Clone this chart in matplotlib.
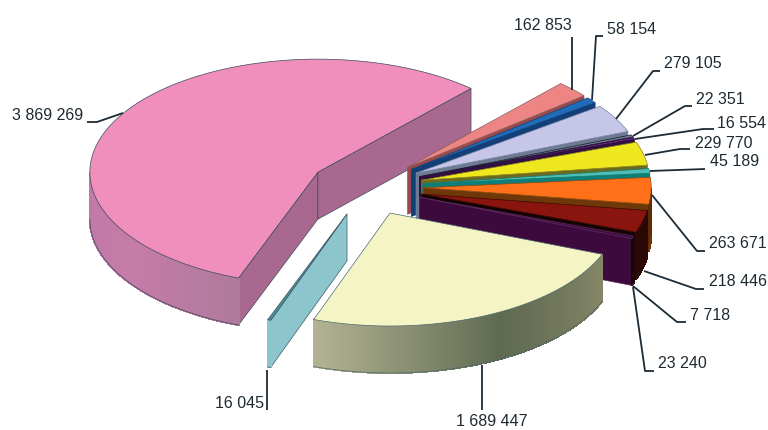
import numpy as np
import matplotlib
matplotlib.use("Agg")
import matplotlib.pyplot as plt
from matplotlib.colors import to_rgb

plt.rcParams['font.family'] = ['Liberation Sans', 'DejaVu Sans']

# clockwise from the top of the pink slice's end
values = [162853, 58154, 279105, 22351, 16554, 229770, 45189,
          263671, 218446, 7718, 23240, 1689447, 16045, 3869269]
labels = ["162 853", "58 154", "279 105", "22 351", "16 554", "229 770", "45 189",
          "263 671", "218 446", "7 718", "23 240", "1 689 447", "16 045", "3 869 269"]

top_colors = ['#EE8585', '#1F6DB8', '#C6C6E8', '#6F7C90', '#7A2C8E', '#F0E81E', '#50BDB5',
              '#FF7018', '#8A140E', '#2A0A08', '#3E0B40', '#F4F4C4', '#4E8C96', '#F08FBB']
wall_colors = ['#9A4A4A', '#123F78', '#6E7A92', '#151A2A', '#301040', '#6B6A1F', '#0E7E78',
               '#6E3808', '#120404', '#1A0804', '#3C0A3C', '#6A7058', '#8CC6CC', '#A8688F']
edge_colors = ['#8A5A5A', '#123F78', '#7A86A0', '#151A2A', '#301040', '#8A8420', '#0E7E78',
               '#8A4A10', '#3A0806', '#1A0804', '#5A2A60', '#4A6A70', '#3B5A66', '#3B4A5A']
# rim colour at the left, middle and right end of each slice's rim
rim_colors = [('#9A4A4A',) * 3, ('#123F78',) * 3, ('#6E7A92',) * 3, ('#151A2A',) * 3,
              ('#301040',) * 3, ('#6B6A1F',) * 3, ('#0E7E78',) * 3,
              ('#5E2C06',) * 3, ('#2A0806',) * 3, ('#1A0804',) * 3, ('#1A0508',) * 3,
              ('#B4B494', '#5F6A50', '#868668'), ('#8CC6CC',) * 3,
              ('#C07AA8', '#C47CA8', '#B07A9C')]

# pie geometry in picture pixels
start_angle = 47.8
cx, cy = 366.4, 187.0
rx, ry = 228.0, 113.0
explode_x, explode_y = 56.8, 28.6
depth = 47.0

# leader lines, one list of points per label, and where each label sits
leaders = [[(572, 37), (572, 90)],
           [(603, 36), (596, 36), (592, 100)],
           [(660, 71), (653, 71), (616, 119)],
           [(692, 106), (685, 106), (633, 136)],
           [(714, 129), (703, 129), (635, 139)],
           [(690, 149), (680, 149), (645, 155)],
           [(705, 169), (650, 171)],
           [(705, 251), (697, 251), (652, 195)],
           [(704, 289), (696, 289), (644, 271)],
           [(686, 322), (677, 322), (633, 286)],
           [(654, 371), (645, 371), (633, 287)],
           [(482, 410), (482, 365)],
           [(267, 410), (267, 370)],
           [(87, 122), (97, 122), (123, 113)]]
label_pos = [(514, 25), (607, 30), (664, 64), (696, 100), (717, 123), (695, 143), (710, 162),
             (709, 244), (709, 282), (690, 315), (658, 363), (456, 422), (215, 403), (12, 115)]

fig = plt.figure(figsize=(7.68, 4.30), dpi=100)
ax = fig.add_axes([0, 0, 1, 1])
ax.set_xlim(0, 768)
ax.set_ylim(430, 0)
ax.axis('off')

sweeps = np.array(values) / sum(values) * 360.0
his = start_angle - np.concatenate(([0], np.cumsum(sweeps)[:-1]))
los = his - sweeps


def rim_point(ox, oy, deg):
    r = np.radians(deg)
    return ox + rx * np.cos(r), oy - ry * np.sin(r)


z = 1
# back to front: pink, the fan from top to bottom, teal sliver, big yellow slice
for i in [13] + list(range(11)) + [12, 11]:
    hi, lo = his[i], los[i]
    mid = np.radians((hi + lo) / 2)
    ox = cx + explode_x * np.cos(mid)
    oy = cy - explode_y * np.sin(mid)
    edge = edge_colors[i]

    # cut faces that look towards the viewer
    for deg, show in ((hi, np.cos(np.radians(hi)) < 0), (lo, np.cos(np.radians(lo)) > 0)):
        if show:
            px, py = rim_point(ox, oy, deg)
            ax.fill([ox, px, px, ox], [oy, py, py + depth, oy + depth],
                    facecolor=wall_colors[i], edgecolor=edge, linewidth=0.5, zorder=z)
            z += 1

    # outer rim, as thin strips so that it can shade across the slice
    angles = np.linspace(lo, hi, max(int(sweeps[i] * 3), 3))
    angles = angles[np.sin(np.radians(angles)) < 0.0]
    if len(angles) > 1:
        xs, ys = rim_point(ox, oy, angles)
        stops = np.array([to_rgb(c) for c in rim_colors[i]])
        t = np.linspace(0, 1, len(angles))
        for k in range(len(angles) - 1):
            col = [np.interp(t[k], [0, 0.55, 1], stops[:, c]) for c in range(3)]
            ax.fill([xs[k], xs[k + 1], xs[k + 1], xs[k]],
                    [ys[k], ys[k + 1], ys[k + 1] + depth, ys[k] + depth],
                    facecolor=col, edgecolor=col, linewidth=0.8, antialiased=False, zorder=z)
        ax.plot(xs, ys + depth, color=edge, linewidth=0.5, zorder=z)
        z += 1

    # top of the slice
    angles = np.linspace(lo, hi, max(int(sweeps[i] * 2), 3))
    xs, ys = rim_point(ox, oy, angles)
    ax.fill(np.r_[ox, xs], np.r_[oy, ys], facecolor=top_colors[i],
            edgecolor=edge, linewidth=0.5, zorder=z)
    z += 1

for pts, text, (tx, ty) in zip(leaders, labels, label_pos):
    px, py = zip(*pts)
    ax.plot(px, py, color='#1C2B35', linewidth=1.3, solid_capstyle='butt', zorder=z)
    ax.text(tx, ty, text, fontsize=11.5, color='#1E2A32', ha='left', va='center', zorder=z + 1)

fig.savefig('out.png', dpi=100, facecolor='white')
